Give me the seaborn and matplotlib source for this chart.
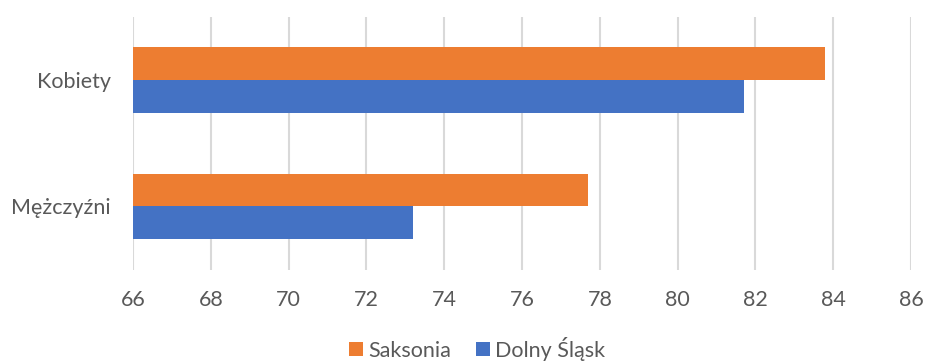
import matplotlib
matplotlib.use("Agg")
import matplotlib.pyplot as plt
import seaborn as sns
import pandas as pd

# Life expectancy by sex: Saxony vs Lower Silesia
categories = ["Kobiety", "Mężczyźni"]
regions = ["Saksonia", "Dolny Śląsk"]
saksonia = [83.8, 77.7]
dolny_slask = [81.7, 73.2]
x_ticks = [66, 68, 70, 72, 74, 76, 78, 80, 82, 84, 86]

colors = ["#ED7D31", "#4472C4"]
text_color = "#595959"
grid_color = "#D9D9D9"

df = pd.DataFrame({
    "kategoria": categories * 2,
    "region": [regions[0]] * 2 + [regions[1]] * 2,
    "wartosc": saksonia + dolny_slask,
})

sns.set_theme(style="white")
plt.rcParams["font.family"] = ["Lato", "DejaVu Sans"]

fig = plt.figure(figsize=(9.25, 3.62), dpi=100)
ax = fig.add_axes([0.1438, 0.2552, 0.8411, 0.6978])

sns.barplot(
    data=df, y="kategoria", x="wartosc", hue="region",
    order=categories, hue_order=regions, palette=colors,
    width=0.52, orient="h", ax=ax, linewidth=0, saturation=1,
    legend=True,
)

ax.set_xlim(x_ticks[0], x_ticks[-1])
ax.set_xticks(x_ticks)
ax.set_ylim(1.5, -0.5)
ax.set_xlabel("")
ax.set_ylabel("")
ax.set_axisbelow(True)
ax.grid(axis="x", color=grid_color, linewidth=1.5)
ax.grid(axis="y", visible=False)
for s in ax.spines.values():
    s.set_visible(False)
ax.tick_params(axis="both", length=0, labelsize=15.5, colors=text_color)
ax.tick_params(axis="x", pad=15)
ax.tick_params(axis="y", pad=16)

handles, labels = ax.get_legend_handles_labels()
ax.get_legend().remove()
fig.legend(
    handles, labels, loc="lower center", bbox_to_anchor=(0.516, -0.05),
    ncol=2, frameon=False, fontsize=15.5, labelcolor=text_color,
    handlelength=0.65, handleheight=0.65, handletextpad=0.25,
    columnspacing=1.15,
)

fig.savefig("out.png", dpi=100)
